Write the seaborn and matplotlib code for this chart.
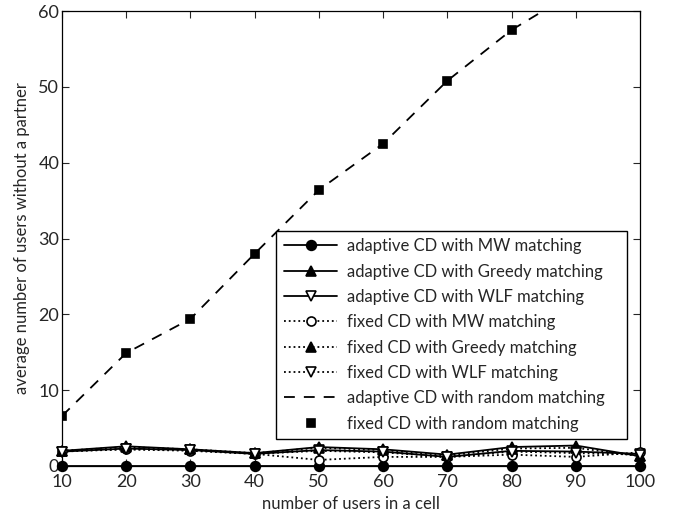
import matplotlib
matplotlib.use("Agg")
import matplotlib.pyplot as plt
import numpy as np
import pandas as pd
import seaborn as sns

users = [10, 20, 30, 40, 50, 60, 70, 80, 90, 100]

adaptive_mw = [0, 0, 0, 0, 0, 0, 0, 0, 0, 0]
adaptive_greedy = [2.0, 2.6, 2.2, 1.7, 2.5, 2.2, 1.5, 2.5, 2.7, 1.3]
adaptive_wlf = [1.9, 2.3, 2.1, 1.6, 2.1, 1.9, 1.2, 2.0, 1.9, 1.6]
fixed_mw = [2.0, 2.2, 2.0, 1.6, 0.8, 1.2, 1.2, 1.5, 1.2, 1.8]
fixed_greedy = [2.0, 2.5, 2.2, 1.7, 2.4, 2.1, 1.4, 2.3, 2.4, 1.3]
fixed_wlf = [1.9, 2.2, 2.1, 1.6, 2.0, 1.8, 1.2, 1.9, 1.7, 1.5]
adaptive_random = [6.6, 14.9, 19.4, 28.0, 36.4, 42.5, 50.8, 57.5, 62.6, 68.0]
fixed_random = [6.6, 14.9, 19.4, 28.0, 36.4, 42.5, 50.8, 57.5, 62.6, 68.0]

sns.set_style("ticks")
plt.rcParams["font.family"] = ["Lato", "DejaVu Sans"]
plt.rcParams["xtick.direction"] = "in"
plt.rcParams["ytick.direction"] = "in"

fig = plt.figure(figsize=(6.76, 5.17), dpi=100)
ax = fig.add_axes([62 / 676, 51 / 517, 578 / 676, 455 / 517])

series = [
    ("adaptive CD with MW matching", adaptive_mw, "-", "o", "black", False, 7),
    ("adaptive CD with Greedy matching", adaptive_greedy, "-", "^", "black", False, 7.5),
    ("adaptive CD with WLF matching", adaptive_wlf, "-", "v", "white", False, 7.5),
    ("fixed CD with MW matching", fixed_mw, ":", "o", "white", False, 6.5),
    ("fixed CD with Greedy matching", fixed_greedy, ":", "^", "black", False, 7.5),
    ("fixed CD with WLF matching", fixed_wlf, ":", "v", "white", False, 7.5),
    ("adaptive CD with random matching", adaptive_random, (0, (6, 5)), None, "black", True, 6),
    ("fixed CD with random matching", fixed_random, "none", "s", "black", True, 5.5),
]

for label, vals, ls, mk, fc, clip, ms in series:
    df = pd.DataFrame({"users": users, "value": vals})
    sns.lineplot(data=df, x="users", y="value", ax=ax, color="black",
                 linestyle=ls, marker=mk, markersize=ms, markerfacecolor=fc,
                 markeredgecolor="black", markeredgewidth=1.2, linewidth=1.3,
                 label=label, clip_on=clip, zorder=3)

ax.set_xlim(10, 100)
ax.set_ylim(0, 60)
ax.set_xticks(np.arange(10, 101, 10))
ax.set_yticks(np.arange(0, 61, 10))
ax.tick_params(top=True, right=True, labelsize=13, length=5, width=0.8)
ax.tick_params(axis="x", pad=6)
ax.tick_params(axis="y", pad=2)
for s in ax.spines.values():
    s.set_linewidth(0.9)
    s.set_color("black")
ax.set_xlabel("number of users in a cell", fontsize=12, labelpad=4)
ax.set_ylabel("average number of users without a partner", fontsize=12, labelpad=6)

leg = ax.legend(loc="lower left", bbox_to_anchor=(0.371, 0.059, 0.607, 0.462),
                mode="expand", borderaxespad=0, fontsize=12, frameon=True,
                fancybox=False, handlelength=3.2, labelspacing=0.56,
                borderpad=0.45, handletextpad=0.6, edgecolor="black",
                framealpha=1)
leg.get_frame().set_linewidth(1.0)

fig.savefig("out.png", dpi=100)
